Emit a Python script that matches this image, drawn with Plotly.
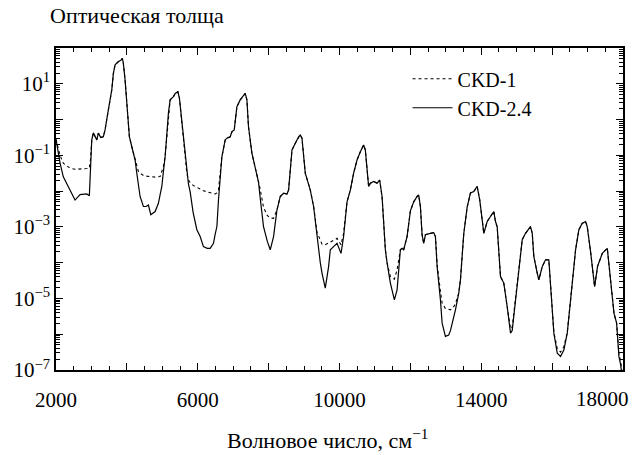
import plotly.graph_objects as go

# Wavenumber grid (cm^-1)
wavenumber = [
    2000, 2113, 2206, 2302, 2396, 2537, 2678, 2771, 2867, 2941, 2975, 3009, 3054, 3150, 3195,
    3263, 3336, 3384, 3477, 3574, 3619, 3667, 3760, 3836, 3873, 3901, 3949, 3997, 4071, 4139,
    4232, 4280, 4325, 4373, 4466, 4543, 4607, 4675, 4797, 4890, 4938, 4986, 5031, 5079, 5172,
    5221, 5269, 5314, 5362, 5438, 5483, 5551, 5644, 5692, 5737, 5786, 5870, 5975, 6068, 6161,
    6266, 6351, 6444, 6492, 6540, 6585, 6681, 6774, 6822, 6916, 6964, 7029, 7105, 7198, 7275,
    7339, 7387, 7432, 7528, 7622, 7715, 7763, 7856, 7961, 8046, 8139, 8235, 8328, 8422, 8518,
    8563, 8659, 8752, 8845, 8893, 8941, 9034, 9176, 9269, 9365, 9458, 9506, 9599, 9692, 9741,
    9834, 9930, 10043, 10116, 10212, 10306, 10399, 10495, 10588, 10681, 10729, 10822, 10871, 10964, 11060,
    11133, 11201, 11246, 11294, 11342, 11436, 11549, 11625, 11718, 11766, 11811, 11907, 12001, 12094, 12190,
    12235, 12283, 12331, 12376, 12424, 12566, 12659, 12707, 12755, 12848, 12896, 12989, 13082, 13131, 13224,
    13272, 13365, 13413, 13506, 13602, 13696, 13789, 13885, 13958, 14026, 14072, 14168, 14261, 14354, 14402,
    14450, 14543, 14636, 14732, 14826, 14874, 14967, 15060, 15156, 15249, 15391, 15439, 15484, 15580, 15625,
    15721, 15814, 15907, 15956, 16049, 16145, 16238, 16331, 16427, 16521, 16662, 16755, 16851, 16944, 16992,
    17086, 17199, 17283, 17416, 17557, 17602, 17698, 17745, 17820, 17885, 17933, 17990,
]

# log10 of optical depth, CKD-2.4 (solid)
ckd24_log10 = [
    -0.55, -1.21, -1.60, -1.78, -2.00, -2.25, -2.10, -2.08, -2.08, -2.13, -1.40, -0.57, -0.37, -0.57, -0.38,
    -0.50, -0.48, -0.29, 0.27, 0.83, 1.29, 1.53, 1.62, 1.66, 1.71, 1.57, 1.11, 0.36, -0.48, -0.76,
    -1.13, -1.50, -1.85, -2.15, -2.43, -2.43, -2.39, -2.66, -2.57, -2.34, -2.10, -1.87, -1.45, -1.04, 0.18,
    0.55, 0.60, 0.64, 0.73, 0.78, 0.60, -0.10, -0.85, -1.50, -1.80, -2.02, -2.60, -3.08, -3.27, -3.55,
    -3.60, -3.60, -3.46, -3.20, -2.99, -2.25, -1.04, -0.57, -0.52, -0.48, -0.34, -0.29, 0.36, 0.55, 0.64,
    0.73, 0.55, -0.20, -0.94, -1.31, -1.75, -2.20, -2.99, -3.40, -3.64, -3.27, -2.53, -2.15, -2.06, -2.08,
    -1.97, -0.85, -0.66, -0.48, -0.43, -0.52, -1.50, -1.97, -2.43, -3.30, -4.00, -4.29, -4.71, -4.11, -3.64,
    -3.55, -3.46, -3.74, -3.27, -2.30, -1.97, -1.50, -1.13, -0.90, -0.71, -0.85, -1.87, -1.78, -1.73, -1.78,
    -1.69, -2.15, -2.80, -3.64, -4.00, -4.57, -5.04, -4.76, -3.64, -3.60, -3.64, -3.27, -2.55, -2.30, -2.15,
    -2.11, -2.43, -3.22, -3.46, -3.22, -3.18, -3.16, -3.27, -4.11, -5.04, -5.69, -6.06, -6.02, -5.90, -5.55,
    -5.32, -4.85, -4.48, -3.20, -2.45, -2.05, -2.01, -1.87, -2.25, -2.80, -3.18, -2.85, -2.71, -2.57, -2.85,
    -3.00, -4.39, -4.57, -5.23, -5.97, -5.90, -5.04, -4.11, -3.36, -3.18, -2.99, -3.18, -3.83, -4.29, -4.48,
    -4.11, -3.92, -3.92, -4.67, -5.97, -6.53, -6.62, -6.44, -5.97, -5.04, -3.64, -3.08, -2.90, -2.85, -3.00,
    -3.70, -4.67, -4.10, -3.74, -3.60, -4.01, -5.04, -5.41, -5.69, -6.62, -6.85, -7.30,
]

# log10 of optical depth, CKD-1 (dotted)
ckd1_log10 = [
    -0.55, -1.00, -1.22, -1.30, -1.36, -1.39, -1.39, -1.38, -1.37, -1.36, -1.10, -0.57, -0.37, -0.57, -0.38,
    -0.50, -0.48, -0.29, 0.27, 0.83, 1.29, 1.53, 1.62, 1.66, 1.71, 1.57, 1.11, 0.36, -0.48, -0.76,
    -1.13, -1.35, -1.45, -1.50, -1.56, -1.58, -1.59, -1.60, -1.61, -1.60, -1.59, -1.45, -1.31, -1.04, 0.18,
    0.55, 0.60, 0.64, 0.73, 0.78, 0.60, -0.10, -0.85, -1.50, -1.69, -1.76, -1.84, -1.90, -1.95, -1.99,
    -2.02, -2.05, -2.08, -2.08, -2.05, -1.97, -1.04, -0.57, -0.52, -0.48, -0.34, -0.29, 0.36, 0.55, 0.64,
    0.73, 0.55, -0.20, -0.94, -1.31, -1.72, -1.95, -2.45, -2.68, -2.75, -2.76, -2.53, -2.15, -2.06, -2.08,
    -1.97, -0.85, -0.66, -0.48, -0.43, -0.52, -1.50, -1.97, -2.43, -3.15, -3.40, -3.48, -3.50, -3.45, -3.41,
    -3.36, -3.32, -3.50, -3.18, -2.30, -1.97, -1.50, -1.13, -0.90, -0.71, -0.85, -1.87, -1.78, -1.73, -1.78,
    -1.69, -2.15, -2.80, -3.64, -4.00, -4.39, -4.46, -4.20, -3.64, -3.60, -3.64, -3.27, -2.55, -2.30, -2.15,
    -2.11, -2.43, -3.22, -3.46, -3.22, -3.18, -3.16, -3.27, -4.05, -4.80, -5.13, -5.28, -5.31, -5.32, -5.23,
    -5.15, -4.85, -4.48, -3.20, -2.45, -2.05, -2.01, -1.87, -2.25, -2.80, -3.18, -2.85, -2.71, -2.57, -2.85,
    -3.00, -4.39, -4.57, -5.23, -5.85, -5.80, -5.04, -4.11, -3.36, -3.18, -2.99, -3.18, -3.83, -4.29, -4.48,
    -4.11, -3.92, -3.92, -4.67, -5.95, -6.40, -6.50, -6.35, -5.95, -5.04, -3.64, -3.08, -2.90, -2.85, -3.00,
    -3.70, -4.67, -4.10, -3.74, -3.60, -4.01, -5.04, -5.41, -5.69, -6.55, -6.75, -7.20,
]

series_names = ["CKD-1", "CKD-2.4"]
x_tick_values = [2000, 4000, 6000, 8000, 10000, 12000, 14000, 16000, 18000]
x_tick_labels = ["2000", "", "6000", "", "10000", "", "14000", "", ""]
y_exponents = [-7, -6, -5, -4, -3, -2, -1, 0, 1, 2]
y_tick_labels = ["10<sup>−7</sup>", "", "10<sup>−5</sup>", "", "10<sup>−3</sup>", "",
                 "10<sup>−1</sup>", "", "10<sup>1</sup>", ""]
title_text = "Оптическая толща"
x_title_text = "Волновое число, см<sup>−1</sup>"

FONT = "Liberation Serif"

fig = go.Figure()
fig.add_trace(go.Scatter(
    x=wavenumber, y=[10 ** v for v in ckd1_log10], mode="lines", name=series_names[0],
    line=dict(color="black", width=1.1, dash="dot"),
))
fig.add_trace(go.Scatter(
    x=wavenumber, y=[10 ** v for v in ckd24_log10], mode="lines", name=series_names[1],
    line=dict(color="black", width=1.2),
))

x_minor = [v for v in range(2500, 18000, 500) if v % 2000 != 0]
y_major = [10.0 ** e for e in y_exponents]
y_minor = [k * 10.0 ** e for e in y_exponents[:-1] for k in range(2, 10)]

fig.update_xaxes(
    range=[2000, 18000], tickmode="array", tickvals=x_tick_values, ticktext=x_tick_labels,
    ticks="inside", ticklen=7, tickwidth=1.2, tickcolor="black", ticklabelstandoff=10,
    minor=dict(tickmode="array", tickvals=x_minor, ticks="inside", ticklen=4, tickwidth=1, tickcolor="black", showgrid=False),
    showline=True, linewidth=1.5, linecolor="black", mirror="allticks",
    showgrid=False, zeroline=False, tickfont=dict(family=FONT, size=21, color="black"),
    automargin=False,
)
fig.update_yaxes(
    type="log", range=[-7, 2], tickmode="array", tickvals=y_major, ticktext=y_tick_labels,
    ticks="inside", ticklen=7, tickwidth=1.2, tickcolor="black",
    minor=dict(tickmode="array", tickvals=y_minor, ticks="inside", ticklen=4, tickwidth=1, tickcolor="black", showgrid=False),
    showline=True, linewidth=1.5, linecolor="black", mirror="allticks",
    showgrid=False, zeroline=False, tickfont=dict(family=FONT, size=21, color="black"),
    automargin=False,
)

fig.add_annotation(
    text="18000", x=18000, xref="x", y=0, yref="paper", xanchor="right", yanchor="top",
    xshift=8, yshift=-15, showarrow=False, font=dict(family=FONT, size=21, color="black"),
)
fig.add_annotation(
    text=x_title_text, x=0.48, xref="paper", y=-0.215, yref="paper", xanchor="center", yanchor="middle",
    showarrow=False, font=dict(family=FONT, size=22, color="black"),
)

fig.update_layout(
    width=639, height=455,
    margin=dict(l=56, r=16, t=48, b=85),
    plot_bgcolor="white", paper_bgcolor="white",
    font=dict(family=FONT, size=21, color="black"),
    title=dict(text=title_text, x=50 / 639, xref="container", xanchor="left",
               y=1 - 15 / 455, yref="container", yanchor="middle",
               font=dict(family=FONT, size=22, color="black")),
    showlegend=True,
    legend=dict(x=0.62, y=0.965, xanchor="left", yanchor="top", bgcolor="rgba(0,0,0,0)",
                font=dict(family=FONT, size=20, color="black"), itemwidth=40, tracegroupgap=0),
)

fig.write_html("out.html", config={"displayModeBar": False},
               post_script="document.body.style.margin='0';")
